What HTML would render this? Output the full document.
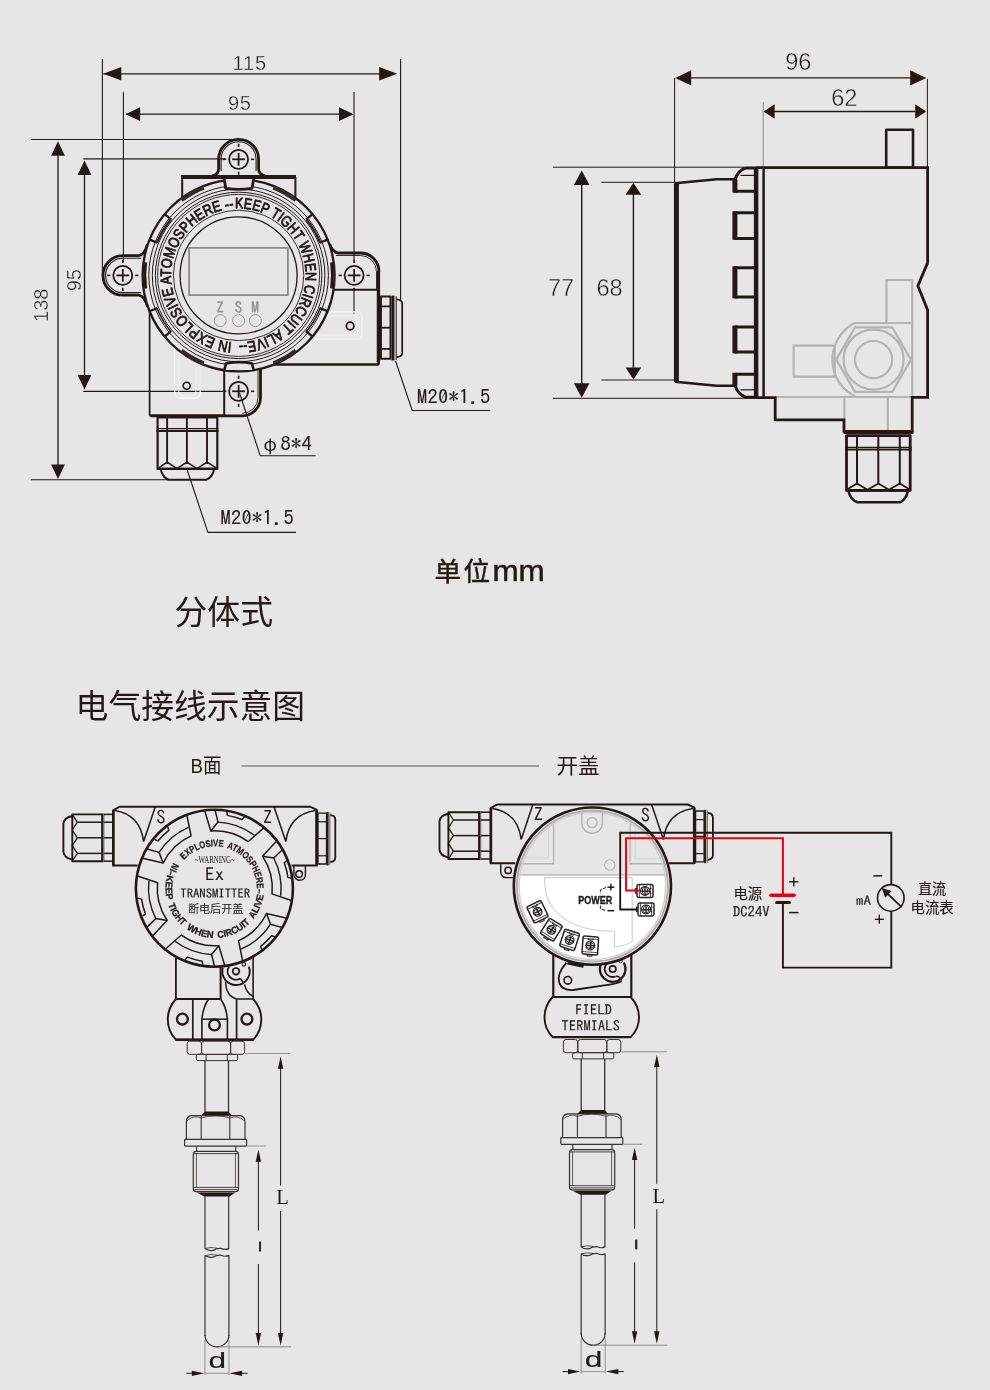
<!DOCTYPE html>
<html lang="zh-CN"><head><meta charset="utf-8"><title>分体式 电气接线示意图</title>
<style>
html,body{margin:0;padding:0;background:#e7e5e6;}
body{width:990px;height:1390px;overflow:hidden;font-family:"Liberation Sans","Noto Sans CJK SC",sans-serif;}
svg{display:block;will-change:transform;}
</style></head><body>
<svg width="990" height="1390" viewBox="0 0 990 1390" stroke-linejoin="round">
<rect x="0" y="0" width="990" height="1390" fill="#e7e5e6"/>
<g id="view1">
<line x1="102.4" y1="59" x2="102.4" y2="275.4" stroke="#231815" stroke-width="1.1" />
<line x1="123.4" y1="92" x2="123.4" y2="262" stroke="#231815" stroke-width="1.1" />
<line x1="400.6" y1="59" x2="400.6" y2="301" stroke="#231815" stroke-width="1.1" />
<line x1="354" y1="92" x2="354" y2="262" stroke="#231815" stroke-width="1.1" />
<line x1="354" y1="288" x2="354" y2="313.5" stroke="#231815" stroke-width="1.1" />
<line x1="103.5" y1="73.8" x2="390" y2="73.8" stroke="#231815" stroke-width="1.3" />
<polygon points="103.3,73.8 121.3,67 121.3,80.6" fill="#231815" stroke="none" stroke-width="0" />
<polygon points="397.2,73.8 379.2,67 379.2,80.6" fill="#231815" stroke="none" stroke-width="0" />
<line x1="126" y1="114.2" x2="352" y2="114.2" stroke="#231815" stroke-width="1.3" />
<polygon points="125.5,114.2 140.1,107.3 140.1,121.1" fill="#231815" stroke="none" stroke-width="0" />
<polygon points="353.6,114.2 339,107.3 339,121.1" fill="#231815" stroke="none" stroke-width="0" />
<line x1="30.8" y1="139.5" x2="236" y2="139.5" stroke="#231815" stroke-width="1.1" />
<line x1="83.3" y1="158.9" x2="225" y2="158.9" stroke="#231815" stroke-width="1.1" />
<line x1="83.3" y1="391.4" x2="226" y2="391.4" stroke="#231815" stroke-width="1.1" />
<line x1="30.8" y1="479.8" x2="168" y2="479.8" stroke="#231815" stroke-width="1.1" />
<line x1="58" y1="150" x2="58" y2="470" stroke="#231815" stroke-width="1.3" />
<polygon points="58,141.2 51.1,155.7 64.9,155.7" fill="#231815" stroke="none" stroke-width="0" />
<polygon points="58,478.9 51.1,464.4 64.9,464.4" fill="#231815" stroke="none" stroke-width="0" />
<line x1="84.5" y1="170" x2="84.5" y2="380" stroke="#231815" stroke-width="1.3" />
<polygon points="84.5,160.4 77.6,174.9 91.4,174.9" fill="#231815" stroke="none" stroke-width="0" />
<polygon points="84.5,389.6 77.6,375.1 91.4,375.1" fill="#231815" stroke="none" stroke-width="0" />
<text x="249.8" y="69.9" font-family="'Liberation Sans','Noto Sans CJK SC',sans-serif" font-size="20" font-weight="normal" text-anchor="middle" fill="#231815" letter-spacing="0.9" stroke="#e7e5e6" stroke-width="0.35">115</text>
<text x="239.8" y="109.5" font-family="'Liberation Sans','Noto Sans CJK SC',sans-serif" font-size="20" font-weight="normal" text-anchor="middle" fill="#231815" letter-spacing="0.6" stroke="#e7e5e6" stroke-width="0.35">95</text>
<text x="0" y="0" font-family="'Liberation Sans','Noto Sans CJK SC',sans-serif" font-size="20" font-weight="normal" text-anchor="middle" fill="#231815" transform="translate(48.1,305.2) rotate(-90)" stroke="#e7e5e6" stroke-width="0.35">138</text>
<text x="0" y="0" font-family="'Liberation Sans','Noto Sans CJK SC',sans-serif" font-size="20" font-weight="normal" text-anchor="middle" fill="#231815" transform="translate(80.8,280.2) rotate(-90)" stroke="#e7e5e6" stroke-width="0.35">95</text>
<polyline points="395.6,361 412.2,410.5 490,410.5" fill="none" stroke="#231815" stroke-width="1.1" />
<text x="417" y="403.5" font-family="'IPAGothic','Liberation Mono',monospace" font-size="20.4" font-weight="normal" text-anchor="start" fill="#231815" letter-spacing="0.3" stroke="#231815" stroke-width="0.1">M20*1.5</text>
<polyline points="187.2,470 207.9,532.4 296,532.4" fill="none" stroke="#231815" stroke-width="1.1" />
<text x="220.6" y="524.5" font-family="'IPAGothic','Liberation Mono',monospace" font-size="20.4" font-weight="normal" text-anchor="start" fill="#231815" letter-spacing="0.3" stroke="#231815" stroke-width="0.1">M20*1.5</text>
<polyline points="239.5,393 260.3,455.8 315.7,455.8" fill="none" stroke="#231815" stroke-width="1.1" />
<text x="263.4" y="451.2" font-size="20.4" fill="#231815" stroke="#231815" stroke-width="0.1"><tspan font-family="'Noto Sans CJK SC',sans-serif" font-size="17.6" stroke-width="0">φ</tspan><tspan x="280.4" font-family="'IPAGothic','Liberation Mono',monospace" letter-spacing="0.3">8*4</tspan></text>
<rect x="174.7" y="340" width="25.4" height="58" rx="5" fill="none" stroke="#f3f2f2" stroke-width="1.3" />
<rect x="178.9" y="344" width="17" height="52" rx="4" fill="none" stroke="#f3f2f2" stroke-width="1" />
<rect x="312" y="312" width="50" height="27" rx="4" fill="none" stroke="#f3f2f2" stroke-width="1.3" />
<rect x="316" y="316" width="42" height="19" rx="3" fill="none" stroke="#f3f2f2" stroke-width="1" />
<path d="M149.6 309V414.5Q149.6 416 151.2 416H224.2" fill="none" stroke="#231815" stroke-width="1.7" />
<line x1="150.5" y1="415.8" x2="224.5" y2="415.8" stroke="#231815" stroke-width="3" />
<path d="M268 364.6H376.6Q378.8 364.6 378.8 362.4V272" fill="none" stroke="#231815" stroke-width="2.5" />
<line x1="378.4" y1="271" x2="378.4" y2="362.5" stroke="#231815" stroke-width="3.3" />
<path d="M181.4 177H296" fill="none" stroke="#231815" stroke-width="4" stroke-linecap="butt"/>
<line x1="182.2" y1="177" x2="182.2" y2="198.5" stroke="#231815" stroke-width="2" />
<line x1="295.4" y1="177" x2="295.4" y2="198.5" stroke="#231815" stroke-width="2" />
<path d="M212 175.8Q218.6 175 218.6 168.6V159.3A20 20 0 0 1 258.6 159.3V168.6Q258.6 175 265.2 175.8" fill="none" stroke="#231815" stroke-width="2.8" />
<path d="M221.1 171V159.3A17.5 17.5 0 0 1 256.1 159.3V171" fill="none" stroke="#231815" stroke-width="1.1" />
<path d="M147.5 244Q144.5 254.8 139 255.6H122.8A19.8 19.8 0 0 0 122.8 295.2H139Q144.5 296 147.5 306.8" fill="none" stroke="#231815" stroke-width="2.8" />
<path d="M141 258.2H122.8A17.2 17.2 0 0 0 122.8 292.6H141" fill="none" stroke="#231815" stroke-width="1.1" />
<path d="M329.6 244Q332.6 252.2 338 253H360.4A18.6 18.6 0 0 1 379 271.6" fill="none" stroke="#231815" stroke-width="2.8" />
<path d="M336 255.5H360.4A16.1 16.1 0 0 1 376.5 271.6V290" fill="none" stroke="#231815" stroke-width="0.9" />
<line x1="333.5" y1="289.8" x2="378.4" y2="289.8" stroke="#231815" stroke-width="2" />
<line x1="224.2" y1="369.8" x2="224.2" y2="416.2" stroke="#231815" stroke-width="2" />
<path d="M260.5 368V397.5A18.3 18.3 0 0 1 242.2 415.8H224.2" fill="none" stroke="#231815" stroke-width="2.8" />
<path d="M258 370V397.5A15.8 15.8 0 0 1 242.2 413.3" fill="none" stroke="#231815" stroke-width="0.9" />
<circle cx="238.6" cy="159.3" r="9.5" fill="none" stroke="#231815" stroke-width="1.8" />
<line x1="232.2" y1="159.3" x2="245" y2="159.3" stroke="#231815" stroke-width="1.8" />
<line x1="238.6" y1="152.9" x2="238.6" y2="165.7" stroke="#231815" stroke-width="1.8" />
<line x1="251" y1="159.3" x2="254.2" y2="159.3" stroke="#231815" stroke-width="1.6" />
<line x1="226.2" y1="159.3" x2="223" y2="159.3" stroke="#231815" stroke-width="1.6" />
<line x1="238.6" y1="171.7" x2="238.6" y2="174.9" stroke="#231815" stroke-width="1.6" />
<line x1="238.6" y1="146.9" x2="238.6" y2="143.7" stroke="#231815" stroke-width="1.6" />
<circle cx="122.8" cy="275.4" r="9.5" fill="none" stroke="#231815" stroke-width="1.8" />
<line x1="116.4" y1="275.4" x2="129.2" y2="275.4" stroke="#231815" stroke-width="1.8" />
<line x1="122.8" y1="269" x2="122.8" y2="281.8" stroke="#231815" stroke-width="1.8" />
<line x1="135.2" y1="275.4" x2="138.4" y2="275.4" stroke="#231815" stroke-width="1.6" />
<line x1="110.4" y1="275.4" x2="107.2" y2="275.4" stroke="#231815" stroke-width="1.6" />
<line x1="122.8" y1="287.8" x2="122.8" y2="291" stroke="#231815" stroke-width="1.6" />
<line x1="122.8" y1="263" x2="122.8" y2="259.8" stroke="#231815" stroke-width="1.6" />
<circle cx="354.1" cy="275.4" r="9.5" fill="none" stroke="#231815" stroke-width="1.8" />
<line x1="347.7" y1="275.4" x2="360.5" y2="275.4" stroke="#231815" stroke-width="1.8" />
<line x1="354.1" y1="269" x2="354.1" y2="281.8" stroke="#231815" stroke-width="1.8" />
<line x1="366.5" y1="275.4" x2="369.7" y2="275.4" stroke="#231815" stroke-width="1.6" />
<line x1="341.7" y1="275.4" x2="338.5" y2="275.4" stroke="#231815" stroke-width="1.6" />
<line x1="354.1" y1="287.8" x2="354.1" y2="291" stroke="#231815" stroke-width="1.6" />
<line x1="354.1" y1="263" x2="354.1" y2="259.8" stroke="#231815" stroke-width="1.6" />
<circle cx="238.6" cy="391.3" r="9.5" fill="none" stroke="#231815" stroke-width="1.8" />
<line x1="232.2" y1="391.3" x2="245" y2="391.3" stroke="#231815" stroke-width="1.8" />
<line x1="238.6" y1="384.9" x2="238.6" y2="397.7" stroke="#231815" stroke-width="1.8" />
<line x1="251" y1="391.3" x2="254.2" y2="391.3" stroke="#231815" stroke-width="1.6" />
<line x1="226.2" y1="391.3" x2="223" y2="391.3" stroke="#231815" stroke-width="1.6" />
<line x1="238.6" y1="403.7" x2="238.6" y2="406.9" stroke="#231815" stroke-width="1.6" />
<line x1="238.6" y1="378.9" x2="238.6" y2="375.7" stroke="#231815" stroke-width="1.6" />
<circle cx="186.7" cy="385.8" r="3.5" fill="none" stroke="#231815" stroke-width="1.6" />
<circle cx="350.1" cy="326" r="3.8" fill="none" stroke="#231815" stroke-width="1.7" />
<circle cx="238.6" cy="275.4" r="96" fill="#e7e5e6" stroke="#231815" stroke-width="2.3" />
<circle cx="238.6" cy="275.4" r="89.8" fill="none" stroke="#231815" stroke-width="1" />
<circle cx="238.6" cy="275.4" r="86.3" fill="none" stroke="#231815" stroke-width="1" />
<circle cx="238.6" cy="275.4" r="83.2" fill="none" stroke="#231815" stroke-width="1" />
<circle cx="238.6" cy="275.4" r="81" fill="none" stroke="#231815" stroke-width="0.9" />
<circle cx="238.6" cy="275.4" r="65.2" fill="none" stroke="#231815" stroke-width="0.9" />
<circle cx="238.6" cy="275.4" r="58.5" fill="none" stroke="#231815" stroke-width="1.3" />
<line x1="305.94" y1="219.69" x2="312.57" y2="214.21" stroke="#231815" stroke-width="2.3" />
<line x1="171.26" y1="219.69" x2="164.63" y2="214.21" stroke="#231815" stroke-width="2.3" />
<line x1="305.94" y1="331.11" x2="312.57" y2="336.59" stroke="#231815" stroke-width="2.3" />
<line x1="171.26" y1="331.11" x2="164.63" y2="336.59" stroke="#231815" stroke-width="2.3" />
<line x1="319.69" y1="242.8" x2="327.67" y2="239.59" stroke="#231815" stroke-width="2.3" />
<line x1="157.51" y1="242.8" x2="149.53" y2="239.59" stroke="#231815" stroke-width="2.3" />
<line x1="319.69" y1="308" x2="327.67" y2="311.21" stroke="#231815" stroke-width="2.3" />
<line x1="157.51" y1="308" x2="149.53" y2="311.21" stroke="#231815" stroke-width="2.3" />
<path d="M306.33 219.37A87.9 87.9 0 0 1 320.16 242.61" fill="none" stroke="#332b29" stroke-width="2.4" />
<path d="M157.04 242.61A87.9 87.9 0 0 1 170.87 219.37" fill="none" stroke="#332b29" stroke-width="2.4" />
<path d="M320.25 308.22A88 88 0 0 1 306.41 331.49" fill="none" stroke="#231815" stroke-width="1.4" />
<path d="M170.79 331.49A88 88 0 0 1 156.95 308.22" fill="none" stroke="#231815" stroke-width="1.4" />
<path d="M273.35 187.63A94.4 94.4 0 0 1 295.67 200.21" fill="none" stroke="#332b29" stroke-width="3.8" />
<path d="M181.53 200.21A94.4 94.4 0 0 1 203.85 187.63" fill="none" stroke="#332b29" stroke-width="3.8" />
<path d="M295.67 350.59A94.4 94.4 0 0 1 273.35 363.17" fill="none" stroke="#332b29" stroke-width="3.8" />
<path d="M203.85 363.17A94.4 94.4 0 0 1 181.53 350.59" fill="none" stroke="#332b29" stroke-width="3.8" />
<path d="M331.49 262.35A93.8 93.8 0 0 1 331.49 288.45" fill="none" stroke="#231815" stroke-width="2.8" />
<path d="M145.71 288.45A93.8 93.8 0 0 1 145.71 262.35" fill="none" stroke="#231815" stroke-width="2.8" />
<path d="M224.2 179L225.8 188.4Q239 190.4 252 188.4L253.6 179" fill="#e7e5e6" stroke="#231815" stroke-width="2.8" />
<path d="M224.4 370L226 363.4Q239 360.8 252 363.4L253.6 370" fill="#e7e5e6" stroke="#231815" stroke-width="2.6" />
<path d="M181.4 177H296" fill="none" stroke="#231815" stroke-width="4" stroke-linecap="butt"/>
<rect x="189.1" y="247.9" width="98.8" height="47.2" rx="0" fill="none" stroke="#8a8a8a" stroke-width="1.8" />
<text x="220" y="312.6" font-family="'IPAGothic','Liberation Mono',monospace" font-size="15.4" font-weight="normal" text-anchor="middle" fill="#8e8e8e" stroke="#8e8e8e" stroke-width="0.25">Z</text>
<circle cx="220.2" cy="320.6" r="6" fill="none" stroke="#8e8e8e" stroke-width="0.9" />
<text x="238.4" y="312.6" font-family="'IPAGothic','Liberation Mono',monospace" font-size="15.4" font-weight="normal" text-anchor="middle" fill="#8e8e8e" stroke="#8e8e8e" stroke-width="0.25">S</text>
<circle cx="238.6" cy="320.6" r="6" fill="none" stroke="#8e8e8e" stroke-width="0.9" />
<text x="255.2" y="312.6" font-family="'IPAGothic','Liberation Mono',monospace" font-size="15.4" font-weight="normal" text-anchor="middle" fill="#8e8e8e" stroke="#8e8e8e" stroke-width="0.25">M</text>
<circle cx="255.4" cy="320.6" r="6" fill="none" stroke="#8e8e8e" stroke-width="0.9" />
<path id="rt1" d="M215.68 212.44A67 67 0 1 1 261.52 338.36A67 67 0 1 1 215.68 212.44" fill="none"/>
<text font-family="'Liberation Sans',sans-serif" font-size="15.2" font-weight="normal" fill="#231815" stroke="#231815" stroke-width="0.85"><textPath href="#rt1" startOffset="19.88" textLength="213.53" lengthAdjust="spacingAndGlyphs">KEEP TIGHT WHEN CIRCUIT ALIVE--</textPath></text>
<path id="rt2" d="M250.23 341.38A67 67 0 1 1 226.97 209.42A67 67 0 1 1 250.23 341.38" fill="none"/>
<text font-family="'Liberation Sans',sans-serif" font-size="15.2" font-weight="normal" fill="#231815" stroke="#231815" stroke-width="0.85"><textPath href="#rt2" startOffset="18.24" textLength="200.2" lengthAdjust="spacingAndGlyphs">IN EXPLOSIVE ATOMOSPHERE --</textPath></text>
<rect x="157.6" y="417.5" width="59.7" height="51.4" rx="0" fill="none" stroke="#231815" stroke-width="2.2" />
<line x1="156.6" y1="428.7" x2="218.3" y2="428.7" stroke="#231815" stroke-width="1.2" />
<line x1="156.4" y1="431" x2="218.5" y2="431" stroke="#231815" stroke-width="2.2" />
<line x1="167.1" y1="417.5" x2="167.1" y2="462.3" stroke="#231815" stroke-width="1.9" />
<line x1="186.9" y1="417.5" x2="186.9" y2="462.3" stroke="#231815" stroke-width="1.9" />
<line x1="207" y1="417.5" x2="207" y2="462.3" stroke="#231815" stroke-width="1.9" />
<polyline points="157.6,468.6 167.1,462.1 177,468.6 186.9,462.1 197,468.6 207,462.1 217.3,468.6" fill="none" stroke="#231815" stroke-width="1.6" />
<line x1="157.6" y1="468.9" x2="217.3" y2="468.9" stroke="#231815" stroke-width="2.4" />
<path d="M160.6 469Q162.5 477.5 168.5 479.8H206.3Q212.5 477.5 214.2 469" fill="none" stroke="#231815" stroke-width="2" />
<rect x="380.9" y="296.4" width="9.6" height="62.4" rx="0" fill="none" stroke="#231815" stroke-width="2" />
<line x1="380.9" y1="306.4" x2="390.5" y2="306.4" stroke="#231815" stroke-width="1.8" />
<line x1="380.9" y1="327.7" x2="390.5" y2="327.7" stroke="#231815" stroke-width="1.8" />
<line x1="380.9" y1="348.9" x2="390.5" y2="348.9" stroke="#231815" stroke-width="1.8" />
<line x1="393" y1="295.6" x2="393" y2="360.4" stroke="#231815" stroke-width="2.9" />
<line x1="396.2" y1="296.2" x2="396.2" y2="360" stroke="#231815" stroke-width="1" />
<path d="M396.4 299.4Q402.2 299.8 402.2 303.4V353Q402.2 356.8 396.4 357.2" fill="none" stroke="#231815" stroke-width="1.7" />
</g>
<g id="view2">
<line x1="674.6" y1="78" x2="674.6" y2="182" stroke="#231815" stroke-width="1" />
<line x1="763.2" y1="102" x2="763.2" y2="166" stroke="#8a8a8a" stroke-width="1" />
<line x1="927.4" y1="79" x2="927.4" y2="167" stroke="#231815" stroke-width="1" />
<line x1="553" y1="167.2" x2="745" y2="167.2" stroke="#231815" stroke-width="1" />
<line x1="601.4" y1="182.3" x2="676" y2="182.3" stroke="#231815" stroke-width="1" />
<line x1="553" y1="398.3" x2="755" y2="398.3" stroke="#231815" stroke-width="1" />
<line x1="601.4" y1="380" x2="676" y2="380" stroke="#231815" stroke-width="1" />
<line x1="680" y1="77.9" x2="920" y2="77.9" stroke="#231815" stroke-width="1.4" />
<polygon points="675.2,77.9 691.2,70.3 691.2,85.5" fill="#231815" stroke="none" stroke-width="0" />
<polygon points="926.2,77.9 910.2,70.3 910.2,85.5" fill="#231815" stroke="none" stroke-width="0" />
<line x1="768" y1="111.5" x2="920" y2="111.5" stroke="#231815" stroke-width="1.4" />
<polygon points="763.6,111.5 774.6,104.3 774.6,118.7" fill="#231815" stroke="none" stroke-width="0" />
<polygon points="926.2,111.5 915.2,104.3 915.2,118.7" fill="#231815" stroke="none" stroke-width="0" />
<line x1="581.7" y1="180" x2="581.7" y2="388" stroke="#231815" stroke-width="1.4" />
<polygon points="581.7,170.4 573.9,184.9 589.5,184.9" fill="#231815" stroke="none" stroke-width="0" />
<polygon points="581.7,397.8 573.9,383.3 589.5,383.3" fill="#231815" stroke="none" stroke-width="0" />
<line x1="633.4" y1="190" x2="633.4" y2="370" stroke="#231815" stroke-width="1.4" />
<polygon points="633.4,182.8 625.6,194.8 641.2,194.8" fill="#231815" stroke="none" stroke-width="0" />
<polygon points="633.4,379.4 625.6,367.4 641.2,367.4" fill="#231815" stroke="none" stroke-width="0" />
<text x="798.3" y="69.9" font-family="'Liberation Sans','Noto Sans CJK SC',sans-serif" font-size="24" font-weight="normal" text-anchor="middle" fill="#231815" textLength="26.2" lengthAdjust="spacingAndGlyphs" stroke="#e7e5e6" stroke-width="0.4">96</text>
<text x="844.3" y="105.8" font-family="'Liberation Sans','Noto Sans CJK SC',sans-serif" font-size="24" font-weight="normal" text-anchor="middle" fill="#231815" textLength="26.2" lengthAdjust="spacingAndGlyphs" stroke="#e7e5e6" stroke-width="0.4">62</text>
<text x="561.1" y="296" font-family="'Liberation Sans','Noto Sans CJK SC',sans-serif" font-size="24" font-weight="normal" text-anchor="middle" fill="#231815" textLength="26.2" lengthAdjust="spacingAndGlyphs" stroke="#e7e5e6" stroke-width="0.4">77</text>
<text x="609.5" y="296" font-family="'Liberation Sans','Noto Sans CJK SC',sans-serif" font-size="24" font-weight="normal" text-anchor="middle" fill="#231815" textLength="26.2" lengthAdjust="spacingAndGlyphs" stroke="#e7e5e6" stroke-width="0.4">68</text>
<rect x="886.5" y="280" width="25.7" height="43" rx="0" fill="none" stroke="#b4b4b5" stroke-width="2.2" />
<rect x="793.7" y="345.6" width="41" height="31.1" rx="0" fill="none" stroke="#b4b4b5" stroke-width="2.2" />
<path d="M854.7 323H912.2V397M854.7 323A41.2 41.2 0 0 0 856.3 397" fill="none" stroke="#b4b4b5" stroke-width="2.2" />
<polygon points="910.9,359.6 892.25,391.9 854.95,391.9 836.3,359.6 854.95,327.3 892.25,327.3" fill="none" stroke="#b4b4b5" stroke-width="2.2" />
<circle cx="873.6" cy="359.6" r="30" fill="none" stroke="#b4b4b5" stroke-width="2.2" />
<circle cx="873.6" cy="359.6" r="18.6" fill="none" stroke="#b4b4b5" stroke-width="2.2" />
<line x1="775" y1="397" x2="912.2" y2="397" stroke="#b4b4b5" stroke-width="2.2" />
<line x1="844.4" y1="397" x2="844.4" y2="420" stroke="#b4b4b5" stroke-width="2.2" />
<line x1="887.8" y1="397" x2="887.8" y2="431" stroke="#b4b4b5" stroke-width="2.2" />
<line x1="676.4" y1="183.2" x2="676.4" y2="381.8" stroke="#231815" stroke-width="5" />
<path d="M675 183.2L716.7 179.3H734" fill="none" stroke="#231815" stroke-width="2.6" />
<path d="M675 381.8L716.7 385.7H734" fill="none" stroke="#231815" stroke-width="2.6" />
<line x1="756.1" y1="167" x2="756.1" y2="398.6" stroke="#231815" stroke-width="4.5" />
<path d="M756.1 191.2H734.9V180Q738 170 746 168H756.1" fill="none" stroke="#231815" stroke-width="3" />
<line x1="740.5" y1="175.4" x2="754" y2="175.4" stroke="#231815" stroke-width="1.2" />
<line x1="734.9" y1="179.5" x2="734.9" y2="192.6" stroke="#231815" stroke-width="5" />
<path d="M756.1 212.7H734.9V238.4H756.1" fill="none" stroke="#231815" stroke-width="3" />
<line x1="734.9" y1="211.3" x2="734.9" y2="239.8" stroke="#231815" stroke-width="5" />
<path d="M756.1 267.7H734.9V296.9H756.1" fill="none" stroke="#231815" stroke-width="3" />
<line x1="734.9" y1="266.3" x2="734.9" y2="298.3" stroke="#231815" stroke-width="5" />
<path d="M756.1 327H734.9V351.9H756.1" fill="none" stroke="#231815" stroke-width="3" />
<line x1="734.9" y1="325.6" x2="734.9" y2="353.3" stroke="#231815" stroke-width="5" />
<path d="M756.1 374.2H734.9V385Q738 395 746 397.3H756.1" fill="none" stroke="#231815" stroke-width="3" />
<line x1="740.5" y1="389.8" x2="754" y2="389.8" stroke="#231815" stroke-width="1.2" />
<line x1="734.9" y1="372.8" x2="734.9" y2="385.5" stroke="#231815" stroke-width="5" />
<line x1="763.6" y1="167.6" x2="763.6" y2="397.5" stroke="#231815" stroke-width="2.5" />
<path d="M756 167.7H927.6V262.9L917.9 285.7L927.6 310.1V397.4H912.2V431.3H844V419.8H775.2V397.6H756" fill="none" stroke="#231815" stroke-width="2.8" stroke-linejoin="miter"/>
<rect x="886.2" y="129.8" width="26.8" height="37.8" rx="0" fill="none" stroke="#231815" stroke-width="2.6" />
<line x1="843.5" y1="432.4" x2="913.3" y2="432.4" stroke="#231815" stroke-width="3.2" />
<rect x="846.5" y="435.6" width="63.7" height="54.8" rx="0" fill="none" stroke="#231815" stroke-width="2.8" />
<line x1="845" y1="447.5" x2="911.7" y2="447.5" stroke="#231815" stroke-width="1.4" />
<line x1="845" y1="449.7" x2="911.7" y2="449.7" stroke="#231815" stroke-width="1.8" />
<line x1="857" y1="435.6" x2="857" y2="483.8" stroke="#231815" stroke-width="2" />
<line x1="878.3" y1="435.6" x2="878.3" y2="483.8" stroke="#231815" stroke-width="2" />
<line x1="899.8" y1="435.6" x2="899.8" y2="483.8" stroke="#231815" stroke-width="2" />
<polyline points="846.5,489.8 857,483.6 867.6,489.8 878.3,483.6 889,489.8 899.8,483.6 910.2,489.8" fill="none" stroke="#231815" stroke-width="1.7" />
<line x1="846.5" y1="490.4" x2="910.2" y2="490.4" stroke="#231815" stroke-width="2.6" />
<path d="M848.4 491Q850.5 499.8 857.4 502.3H899.8Q906 499.8 908 491" fill="none" stroke="#231815" stroke-width="2.5" />
</g>
<g id="texts">
<text y="581.2" fill="#231815" font-family="'Liberation Sans','Noto Sans CJK SC',sans-serif"><tspan x="434.6" font-size="26.6" stroke="#231815" stroke-width="0.45" letter-spacing="2.2">单位</tspan><tspan x="492.4" font-size="30.4" textLength="52.4" lengthAdjust="spacingAndGlyphs" stroke="#231815" stroke-width="0.5">mm</tspan></text>
<text x="174.5" y="623.6" font-family="'Liberation Sans','Noto Sans CJK SC',sans-serif" font-size="32.6" font-weight="normal" text-anchor="start" fill="#231815" textLength="98.5" lengthAdjust="spacingAndGlyphs" >分体式</text>
<text x="75.6" y="718.2" font-family="'Liberation Sans','Noto Sans CJK SC',sans-serif" font-size="32.6" font-weight="normal" text-anchor="start" fill="#231815" textLength="229.5" lengthAdjust="spacingAndGlyphs" >电气接线示意图</text>
<text x="190.5" y="773.3" font-family="'Liberation Sans','Noto Sans CJK SC',sans-serif" font-size="20.5" font-weight="normal" text-anchor="start" fill="#231815" textLength="31" lengthAdjust="spacingAndGlyphs" >B面</text>
<text x="556.4" y="773.3" font-family="'Liberation Sans','Noto Sans CJK SC',sans-serif" font-size="21" font-weight="normal" text-anchor="start" fill="#231815" textLength="43.2" lengthAdjust="spacingAndGlyphs" >开盖</text>
<line x1="241.4" y1="766" x2="539" y2="766" stroke="#5c5757" stroke-width="1.2" />
</g>
<g id="view3">
<path d="M137.5 865.5 L113.2 865.5 L113.2 810.3 L119.6 806.7 L310.2 806.7 L316.7 809.8 L316.7 865.5 L291.5 865.5" fill="none" stroke="#231815" stroke-width="2" stroke-linejoin="miter"/>
<line x1="113.3" y1="810.3" x2="113.3" y2="865.5" stroke="#231815" stroke-width="2.6" />
<line x1="316.6" y1="810" x2="316.6" y2="865.5" stroke="#231815" stroke-width="2.6" />
<path d="M114.8 810.6Q140.1 814.6 143.6 841.6L155.2 807" fill="none" stroke="#231815" stroke-width="1.5" stroke-linejoin="miter"/>
<path d="M315.2 810.6Q289.3 814.6 285.8 841.6L274.1 807" fill="none" stroke="#231815" stroke-width="1.5" stroke-linejoin="miter"/>
<text x="160.8" y="823.6" font-family="'IPAGothic','Liberation Mono',monospace" font-size="18.5" font-weight="normal" text-anchor="middle" fill="#231815" >S</text>
<text x="267.7" y="823.9" font-family="'IPAGothic','Liberation Mono',monospace" font-size="18.5" font-weight="normal" text-anchor="middle" fill="#231815" >Z</text>
<path d="M72.3 816Q64.4 817.4 63.4 823.4V852.2Q64.4 858.2 72.3 859.6" fill="none" stroke="#231815" stroke-width="1.9" />
<rect x="72.3" y="814.4" width="30.1" height="46.8" rx="0" fill="none" stroke="#231815" stroke-width="1.9" />
<line x1="77.3" y1="822.2" x2="102.4" y2="822.2" stroke="#231815" stroke-width="1.5" />
<line x1="77.3" y1="837.8" x2="102.4" y2="837.8" stroke="#231815" stroke-width="1.5" />
<line x1="77.3" y1="853.4" x2="102.4" y2="853.4" stroke="#231815" stroke-width="1.5" />
<polyline points="72.3,814.4 77.3,822.2 72.3,830 77.3,837.8 72.3,845.6 77.3,853.4 72.3,861.2" fill="none" stroke="#231815" stroke-width="1.3" />
<line x1="102" y1="813.4" x2="102" y2="862.2" stroke="#231815" stroke-width="1.3" />
<line x1="103.8" y1="813.4" x2="103.8" y2="862.2" stroke="#7a7676" stroke-width="1.3" />
<line x1="103.8" y1="814.4" x2="113.2" y2="814.4" stroke="#231815" stroke-width="1.5" />
<line x1="103.8" y1="822.2" x2="113.2" y2="822.2" stroke="#231815" stroke-width="1.5" />
<line x1="103.8" y1="837.8" x2="113.2" y2="837.8" stroke="#231815" stroke-width="1.5" />
<line x1="103.8" y1="853.4" x2="113.2" y2="853.4" stroke="#231815" stroke-width="1.5" />
<line x1="103.8" y1="861.2" x2="113.2" y2="861.2" stroke="#231815" stroke-width="1.5" />
<rect x="318" y="813.2" width="8.5" height="50.8" rx="0" fill="none" stroke="#231815" stroke-width="1.3" />
<line x1="318" y1="821.8" x2="326.5" y2="821.8" stroke="#231815" stroke-width="1.2" />
<line x1="318" y1="838.6" x2="326.5" y2="838.6" stroke="#231815" stroke-width="1.2" />
<line x1="318" y1="855.8" x2="326.5" y2="855.8" stroke="#231815" stroke-width="1.2" />
<line x1="327.6" y1="812" x2="327.6" y2="865.4" stroke="#231815" stroke-width="2" />
<line x1="329.8" y1="812.4" x2="329.8" y2="865" stroke="#7a7676" stroke-width="1.2" />
<path d="M330.3 815.2Q335.3 815.6 335.3 819.7V857.5Q335.3 861.6 330.3 862" fill="none" stroke="#231815" stroke-width="1.8" />
<path d="M293.9 866V874.6A5.6 5.6 0 0 0 299.5 880.2Q305.4 880.2 305.4 874.4V866" fill="none" stroke="#231815" stroke-width="1.4" />
<circle cx="299.1" cy="874" r="3.3" fill="none" stroke="#231815" stroke-width="1.5" />
<path d="M175.9 958V999H220.6" fill="none" stroke="#231815" stroke-width="1.8" />
<line x1="220.6" y1="966" x2="220.6" y2="999" stroke="#231815" stroke-width="2" />
<path d="M253.1 955V999H236.5" fill="none" stroke="#231815" stroke-width="1.6" />
<circle cx="236" cy="971.3" r="3.3" fill="none" stroke="#231815" stroke-width="1.7" />
<circle cx="243.9" cy="964.3" r="1.8" fill="none" stroke="#231815" stroke-width="1.1" />
<path d="M248.87 966.61A13.7 13.7 0 1 1 222.77 967.75" fill="none" stroke="#231815" stroke-width="1.9" />
<path d="M240.2 978.57A8.4 8.4 0 0 1 229.12 966.48" fill="none" stroke="#231815" stroke-width="1.8" />
<path d="M240.2 978.6Q242.4 981.4 243.6 982.8" fill="none" stroke="#231815" stroke-width="1.6" />
<path d="M225.6 981.6Q225.8 996 236.5 999" fill="none" stroke="#231815" stroke-width="1.5" />
<path d="M244.6 984.4Q246 992.6 253.1 996.4" fill="none" stroke="#231815" stroke-width="1.5" />
<path d="M175.9 999Q167.8 1008 167.8 1019.4Q167.8 1031 175.9 1039.7H253.2Q261.3 1031 261.3 1019.4Q261.3 1008 253.1 999" fill="none" stroke="#231815" stroke-width="1.9" />
<line x1="175.5" y1="1039.7" x2="253.6" y2="1039.7" stroke="#231815" stroke-width="2.4" />
<line x1="192.8" y1="999" x2="192.8" y2="1039.7" stroke="#231815" stroke-width="1.7" />
<line x1="236.6" y1="999" x2="236.6" y2="1039.7" stroke="#231815" stroke-width="1.7" />
<path d="M201.9 1039.7V1019.3Q203 1007 208.6 999" fill="none" stroke="#231815" stroke-width="1.6" />
<path d="M220.6 999Q226.4 1007 227.4 1019.3V1039.7" fill="none" stroke="#231815" stroke-width="1.6" />
<line x1="201.9" y1="1019.2" x2="227.4" y2="1019.2" stroke="#231815" stroke-width="1.5" />
<circle cx="182.4" cy="1019.1" r="5.4" fill="none" stroke="#231815" stroke-width="2.3" />
<circle cx="214.5" cy="1024.9" r="5.4" fill="none" stroke="#231815" stroke-width="2.3" />
<circle cx="246.9" cy="1019.1" r="5.4" fill="none" stroke="#231815" stroke-width="2.3" />
<circle cx="214.4" cy="888.3" r="78.5" fill="#e7e5e6" stroke="#231815" stroke-width="2.6" />
<path d="M142.6 858.25L163.12 863.09L159.07 852.38L147.21 848.96" fill="none" stroke="#231815" stroke-width="1.5" />
<path d="M159.07 852.38A66.3 66.3 0 0 1 188.47 827.45" fill="none" stroke="#231815" stroke-width="1.4" />
<path d="M163.12 863.09A57.5 57.5 0 0 1 191.05 835.94L186.9 815.25" fill="none" stroke="#231815" stroke-width="1.5" />
<path d="M154.65 839.59L157.95 840.93A74 74 0 0 1 168.84 830.31L167.79 826.81" fill="none" stroke="#231815" stroke-width="1.5" />
<path d="M204.73 810.75L210.79 830.94L218.04 822.08L215.07 810.1" fill="none" stroke="#231815" stroke-width="1.5" />
<path d="M218.04 822.08A66.3 66.3 0 0 1 254.33 835.07" fill="none" stroke="#231815" stroke-width="1.4" />
<path d="M210.79 830.94A57.5 57.5 0 0 1 248.27 841.55L264.12 827.61" fill="none" stroke="#231815" stroke-width="1.5" />
<path d="M226.91 811.85L227.4 815.38A74 74 0 0 1 242.04 819.5L244.54 816.84" fill="none" stroke="#231815" stroke-width="1.5" />
<path d="M276.92 840.8L262.47 856.15L273.77 857.99L282.66 849.44" fill="none" stroke="#231815" stroke-width="1.5" />
<path d="M273.77 857.99A66.3 66.3 0 0 1 280.66 895.92" fill="none" stroke="#231815" stroke-width="1.4" />
<path d="M262.47 856.15A57.5 57.5 0 0 1 272.03 893.91L292.02 900.67" fill="none" stroke="#231815" stroke-width="1.5" />
<path d="M287.06 860.56L284.25 862.75A74 74 0 0 1 288.01 877.49L291.56 878.33" fill="none" stroke="#231815" stroke-width="1.5" />
<path d="M287 918.35L266.48 913.51L270.53 924.22L282.39 927.64" fill="none" stroke="#231815" stroke-width="1.5" />
<path d="M270.53 924.22A66.3 66.3 0 0 1 241.13 949.15" fill="none" stroke="#231815" stroke-width="1.4" />
<path d="M266.48 913.51A57.5 57.5 0 0 1 238.55 940.66L242.7 961.35" fill="none" stroke="#231815" stroke-width="1.5" />
<path d="M274.95 937.01L271.65 935.67A74 74 0 0 1 260.76 946.29L261.81 949.79" fill="none" stroke="#231815" stroke-width="1.5" />
<path d="M224.87 965.85L218.81 945.66L211.56 954.52L214.53 966.5" fill="none" stroke="#231815" stroke-width="1.5" />
<path d="M211.56 954.52A66.3 66.3 0 0 1 175.27 941.53" fill="none" stroke="#231815" stroke-width="1.4" />
<path d="M218.81 945.66A57.5 57.5 0 0 1 181.33 935.05L165.48 948.99" fill="none" stroke="#231815" stroke-width="1.5" />
<path d="M202.69 964.75L202.2 961.22A74 74 0 0 1 187.56 957.1L185.06 959.76" fill="none" stroke="#231815" stroke-width="1.5" />
<path d="M152.68 935.8L167.13 920.45L155.83 918.61L146.94 927.16" fill="none" stroke="#231815" stroke-width="1.5" />
<path d="M155.83 918.61A66.3 66.3 0 0 1 148.94 880.68" fill="none" stroke="#231815" stroke-width="1.4" />
<path d="M167.13 920.45A57.5 57.5 0 0 1 157.57 882.69L137.58 875.93" fill="none" stroke="#231815" stroke-width="1.5" />
<path d="M142.54 916.04L145.35 913.85A74 74 0 0 1 141.59 899.11L138.04 898.27" fill="none" stroke="#231815" stroke-width="1.5" />
<text x="214.8" y="863.4" font-family="'Liberation Serif',serif" font-size="9.4" font-weight="normal" text-anchor="middle" fill="#231815" textLength="40" lengthAdjust="spacingAndGlyphs" >~WARNING~</text>
<text x="214.6" y="881.2" font-family="'IPAGothic','Liberation Mono',monospace" font-size="18.2" font-weight="normal" text-anchor="middle" fill="#231815" textLength="19.4" lengthAdjust="spacingAndGlyphs" >Ex</text>
<text x="215.2" y="897.8" font-family="'IPAGothic','Liberation Mono',monospace" font-size="12.7" font-weight="normal" text-anchor="middle" fill="#231815" stroke="#231815" stroke-width="0.15">TRANSMITTER</text>
<text x="215.6" y="913.4" font-family="'Liberation Sans','Noto Sans CJK SC',sans-serif" font-size="11" font-weight="normal" text-anchor="middle" fill="#231815" textLength="55.4" lengthAdjust="spacingAndGlyphs" >断电后开盖</text>
<path id="bt1" d="M174.23 877.43A42 42 0 1 1 255.37 899.17A42 42 0 1 1 174.23 877.43" fill="none"/>
<text font-family="'Liberation Sans',sans-serif" font-size="9.6" font-weight="bold" fill="#231815" stroke="#231815" stroke-width="0.25"><textPath href="#bt1" startOffset="4.76" textLength="8.06" lengthAdjust="spacingAndGlyphs">IN</textPath> <textPath href="#bt1" startOffset="20.09" textLength="43.25" lengthAdjust="spacingAndGlyphs">EXPLOSIVE</textPath> <textPath href="#bt1" startOffset="67.15" textLength="53.95" lengthAdjust="spacingAndGlyphs">ATMOSPHERE</textPath> <textPath href="#bt1" startOffset="121.54" textLength="4.25" lengthAdjust="spacingAndGlyphs">–</textPath></text>
<path id="bt2" d="M168.57 871.47A49.2 49.2 0 1 0 261.03 905.13A49.2 49.2 0 1 0 168.57 871.47" fill="none"/>
<text font-family="'Liberation Sans',sans-serif" font-size="9.6" font-weight="bold" fill="#231815" stroke="#231815" stroke-width="0.25"><textPath href="#bt2" startOffset="-1.2" textLength="4.29" lengthAdjust="spacingAndGlyphs">–</textPath> <textPath href="#bt2" startOffset="3.61" textLength="25.42" lengthAdjust="spacingAndGlyphs">KEEP</textPath> <textPath href="#bt2" startOffset="33.83" textLength="25.93" lengthAdjust="spacingAndGlyphs">TIGHT</textPath> <textPath href="#bt2" startOffset="64.57" textLength="29.02" lengthAdjust="spacingAndGlyphs">WHEN</textPath> <textPath href="#bt2" startOffset="97.98" textLength="36.32" lengthAdjust="spacingAndGlyphs">CIRCUIT</textPath> <textPath href="#bt2" startOffset="139.11" textLength="26.28" lengthAdjust="spacingAndGlyphs">ALIVE</textPath></text>
<g transform="translate(0 0)">
<rect x="187.2" y="1041.2" width="14.4" height="13.2" rx="2.6" fill="none" stroke="#3a3230" stroke-width="1" />
<rect x="201.6" y="1041.2" width="29" height="13.2" rx="2.6" fill="none" stroke="#3a3230" stroke-width="1" />
<rect x="230.6" y="1041.2" width="14" height="13.2" rx="2.6" fill="none" stroke="#3a3230" stroke-width="1" />
<rect x="196.4" y="1054.4" width="41.2" height="6.2" rx="1.5" fill="none" stroke="#3a3230" stroke-width="1" />
<line x1="206.1" y1="1054.4" x2="206.1" y2="1060.6" stroke="#3a3230" stroke-width="1" />
<line x1="227.3" y1="1054.4" x2="227.3" y2="1060.6" stroke="#3a3230" stroke-width="1" />
<line x1="205" y1="1060.6" x2="205" y2="1112.4" stroke="#3a3230" stroke-width="1.3" />
<line x1="228.5" y1="1060.6" x2="228.5" y2="1112.4" stroke="#3a3230" stroke-width="1.3" />
<polygon points="205,1111.6 228.5,1111.6 232,1115.6 201,1115.6" fill="#231815" stroke="none" stroke-width="0" />
<path d="M186.4 1139.2V1121Q186.6 1116.6 191 1115.6H240.4Q244.8 1116.6 245 1121V1139.2" fill="none" stroke="#3a3230" stroke-width="1.2" />
<line x1="201.2" y1="1116" x2="201.2" y2="1139.2" stroke="#3a3230" stroke-width="1.1" />
<line x1="229.8" y1="1116" x2="229.8" y2="1139.2" stroke="#3a3230" stroke-width="1.1" />
<path d="M186.6 1121Q193.5 1114.8 201.2 1118Q215.5 1113.6 229.8 1118Q237.5 1114.8 244.8 1121" fill="none" stroke="#3a3230" stroke-width="0.8" />
<rect x="184.6" y="1139.3" width="62" height="6.8" rx="0.8" fill="none" stroke="#3a3230" stroke-width="1.2" />
<path d="M196.6 1146.2V1151.6M235.8 1146.2V1151.6" fill="none" stroke="#3a3230" stroke-width="1.1" />
<rect x="193.3" y="1151.4" width="45.2" height="40.2" rx="3" fill="none" stroke="#3a3230" stroke-width="1.2" />
<line x1="193.6" y1="1153.6" x2="238.2" y2="1153.6" stroke="#3a3230" stroke-width="0.9" />
<line x1="193.6" y1="1187.4" x2="238.2" y2="1187.4" stroke="#3a3230" stroke-width="0.9" />
<line x1="194.4" y1="1189.6" x2="237.4" y2="1189.6" stroke="#3a3230" stroke-width="0.9" />
<line x1="196.4" y1="1153.6" x2="196.4" y2="1187.4" stroke="#3a3230" stroke-width="0.8" />
<line x1="235.4" y1="1153.6" x2="235.4" y2="1187.4" stroke="#3a3230" stroke-width="0.8" />
<polygon points="196.6,1192.4 235.4,1192.4 229.6,1196.4 204.2,1196.4" fill="#231815" stroke="none" stroke-width="0" />
<path d="M205 1196V1248.6Q208.6 1251.2 213 1250.4Q217 1248 221 1248.4Q225 1250.4 228.7 1248.6V1196" fill="none" stroke="#3a3230" stroke-width="1.2" />
<path d="M205 1248.6Q211 1246.6 217.2 1248.2" fill="none" stroke="#3a3230" stroke-width="0.8" />
<path d="M205 1336V1255.6Q208.6 1258 213 1257.2Q217 1254.8 221 1255.2Q225 1257.2 228.9 1255.4V1336" fill="none" stroke="#3a3230" stroke-width="1.2" />
<path d="M205 1255.6Q211 1253.6 217.2 1255.2" fill="none" stroke="#3a3230" stroke-width="0.8" />
<path d="M205 1335A11.95 11.95 0 0 0 228.9 1335" fill="none" stroke="#3a3230" stroke-width="1.2" />
<line x1="244.8" y1="1053.5" x2="290.4" y2="1053.5" stroke="#8c8888" stroke-width="0.9" />
<line x1="246.8" y1="1146" x2="266" y2="1146" stroke="#8c8888" stroke-width="0.9" />
<line x1="219" y1="1346.9" x2="291" y2="1346.9" stroke="#8c8888" stroke-width="1" />
<line x1="204.9" y1="1340" x2="204.9" y2="1375.4" stroke="#8c8888" stroke-width="0.9" />
<line x1="229" y1="1340" x2="229" y2="1375.4" stroke="#8c8888" stroke-width="0.9" />
<line x1="204.9" y1="1373.3" x2="229" y2="1373.3" stroke="#8c8888" stroke-width="0.9" />
<line x1="280.6" y1="1066" x2="280.6" y2="1185.6" stroke="#231815" stroke-width="1" />
<line x1="280.6" y1="1211" x2="280.6" y2="1335" stroke="#231815" stroke-width="1" />
<polygon points="280.6,1056.4 277.9,1068.8 283.3,1068.8" fill="#231815" stroke="none" stroke-width="0" />
<polygon points="280.6,1345.4 277.9,1333 283.3,1333" fill="#231815" stroke="none" stroke-width="0" />
<line x1="258.4" y1="1160" x2="258.4" y2="1230.4" stroke="#231815" stroke-width="1" />
<line x1="258.4" y1="1264" x2="258.4" y2="1335" stroke="#231815" stroke-width="1" />
<polygon points="258.4,1149.4 255.7,1161.8 261.1,1161.8" fill="#231815" stroke="none" stroke-width="0" />
<polygon points="258.4,1345.4 255.7,1333 261.1,1333" fill="#231815" stroke="none" stroke-width="0" />
<text x="260.1" y="1250.5" font-family="'Liberation Sans','Noto Sans CJK SC',sans-serif" font-size="13.6" font-weight="normal" text-anchor="middle" fill="#231815" stroke="#231815" stroke-width="0.9">l</text>
<line x1="186.4" y1="1373.3" x2="195" y2="1373.3" stroke="#231815" stroke-width="1" />
<polygon points="204.4,1373.3 191.8,1370.7 191.8,1375.9" fill="#231815" stroke="none" stroke-width="0" />
<line x1="239" y1="1373.3" x2="247.6" y2="1373.3" stroke="#231815" stroke-width="1" />
<polygon points="229.5,1373.3 242.1,1370.7 242.1,1375.9" fill="#231815" stroke="none" stroke-width="0" />
<text x="282.6" y="1204.4" font-family="'Liberation Serif',serif" font-size="20.5" font-weight="normal" text-anchor="middle" fill="#231815" >L</text>
<text x="217.3" y="1368.4" font-family="'Liberation Sans','Noto Sans CJK SC',sans-serif" font-size="21.5" font-weight="normal" text-anchor="middle" fill="#231815" textLength="17.6" lengthAdjust="spacingAndGlyphs" stroke="#231815" stroke-width="0.12">d</text>
</g>
</g>
<g id="view4">
<path d="M515.1 863.3 L490.8 863.3 L490.8 808.1 L497.2 804.5 L687.8 804.5 L694.3 807.6 L694.3 863.3 L669.1 863.3" fill="none" stroke="#231815" stroke-width="2" stroke-linejoin="miter"/>
<line x1="490.9" y1="808.1" x2="490.9" y2="863.3" stroke="#231815" stroke-width="2.6" />
<line x1="694.2" y1="807.8" x2="694.2" y2="863.3" stroke="#231815" stroke-width="2.6" />
<path d="M492.4 808.4Q517.7 812.4 521.2 839.4L532.8 804.8" fill="none" stroke="#231815" stroke-width="1.5" stroke-linejoin="miter"/>
<path d="M692.8 808.4Q666.9 812.4 663.4 839.4L651.7 804.8" fill="none" stroke="#231815" stroke-width="1.5" stroke-linejoin="miter"/>
<text x="538.4" y="821.4" font-family="'IPAGothic','Liberation Mono',monospace" font-size="18.5" font-weight="normal" text-anchor="middle" fill="#231815" >Z</text>
<text x="645.3" y="821.7" font-family="'IPAGothic','Liberation Mono',monospace" font-size="18.5" font-weight="normal" text-anchor="middle" fill="#231815" >S</text>
<path d="M448.4 813.8Q440.5 815.2 439.5 821.2V850Q440.5 856 448.4 857.4" fill="none" stroke="#231815" stroke-width="1.9" />
<rect x="448.4" y="812.2" width="30.85" height="46.8" rx="0" fill="none" stroke="#231815" stroke-width="1.9" />
<line x1="453.4" y1="820" x2="479.25" y2="820" stroke="#231815" stroke-width="1.5" />
<line x1="453.4" y1="835.6" x2="479.25" y2="835.6" stroke="#231815" stroke-width="1.5" />
<line x1="453.4" y1="851.2" x2="479.25" y2="851.2" stroke="#231815" stroke-width="1.5" />
<polyline points="448.4,812.2 453.4,820 448.4,827.8 453.4,835.6 448.4,843.4 453.4,851.2 448.4,859" fill="none" stroke="#231815" stroke-width="1.3" />
<line x1="478.85" y1="811.2" x2="478.85" y2="860" stroke="#231815" stroke-width="1.3" />
<line x1="480.65" y1="811.2" x2="480.65" y2="860" stroke="#7a7676" stroke-width="1.3" />
<line x1="480.65" y1="812.2" x2="490.8" y2="812.2" stroke="#231815" stroke-width="1.5" />
<line x1="480.65" y1="820" x2="490.8" y2="820" stroke="#231815" stroke-width="1.5" />
<line x1="480.65" y1="835.6" x2="490.8" y2="835.6" stroke="#231815" stroke-width="1.5" />
<line x1="480.65" y1="851.2" x2="490.8" y2="851.2" stroke="#231815" stroke-width="1.5" />
<line x1="480.65" y1="859" x2="490.8" y2="859" stroke="#231815" stroke-width="1.5" />
<rect x="695.6" y="811" width="8.5" height="50.8" rx="0" fill="none" stroke="#231815" stroke-width="1.3" />
<line x1="695.6" y1="819.6" x2="704.1" y2="819.6" stroke="#231815" stroke-width="1.2" />
<line x1="695.6" y1="836.4" x2="704.1" y2="836.4" stroke="#231815" stroke-width="1.2" />
<line x1="695.6" y1="853.6" x2="704.1" y2="853.6" stroke="#231815" stroke-width="1.2" />
<line x1="705.2" y1="809.8" x2="705.2" y2="863.2" stroke="#231815" stroke-width="2" />
<line x1="707.4" y1="810.2" x2="707.4" y2="862.8" stroke="#7a7676" stroke-width="1.2" />
<path d="M707.9 813Q712.9 813.4 712.9 817.5V855.3Q712.9 859.4 707.9 859.8" fill="none" stroke="#231815" stroke-width="1.8" />
<path d="M500.7 864V872A5.6 5.6 0 0 0 506.3 877.6H513" fill="none" stroke="#231815" stroke-width="1.4" />
<circle cx="508.1" cy="870.4" r="3.2" fill="none" stroke="#231815" stroke-width="1.5" />
<g transform="translate(376.7 -2.2)">
<path d="M176.6 957V999.2" fill="none" stroke="#231815" stroke-width="2.2" />
<path d="M254.6 953V999.2" fill="none" stroke="#231815" stroke-width="2.2" />
<line x1="175.5" y1="999.2" x2="254.3" y2="999.2" stroke="#231815" stroke-width="1.8" />
<path d="M175.9 999.2Q167.8 1008 167.8 1019.4Q167.8 1031 175.9 1039.3H254Q262.3 1031 262.3 1019.4Q262.3 1008 253.9 999.2" fill="none" stroke="#231815" stroke-width="1.9" />
<line x1="175.5" y1="1039.3" x2="254.4" y2="1039.3" stroke="#231815" stroke-width="2.4" />
</g>
<path d="M566.4 962.6Q556.6 974 559.2 982.6Q562 990.6 573 990L606 985.2Q617 983.6 621.6 981.2" fill="none" stroke="#231815" stroke-width="1.8" />
<path d="M567.4 963.2L583.6 966.6" fill="none" stroke="#231815" stroke-width="2.6" />
<circle cx="567.8" cy="980.3" r="3.8" fill="none" stroke="#231815" stroke-width="1.6" />
<circle cx="612.7" cy="969" r="3.2" fill="none" stroke="#231815" stroke-width="1.7" />
<path d="M615.44 976.52A8 8 0 0 1 609.96 961.48" fill="none" stroke="#231815" stroke-width="1.8" />
<path d="M623.79 962.6A12.8 12.8 0 1 1 602.21 961.66" fill="none" stroke="#231815" stroke-width="2.2" />
<path d="M615.4 976.4Q620 976 621.6 980.6" fill="none" stroke="#231815" stroke-width="1.5" />
<circle cx="620.6" cy="961.2" r="1.6" fill="none" stroke="#231815" stroke-width="1" />
<circle cx="592.4" cy="886.1" r="78.6" fill="#e7e5e6" stroke="#231815" stroke-width="2.6" />
<clipPath id="c4"><circle cx="592.4" cy="886.1" r="76"/></clipPath>
<g clip-path="url(#c4)">
<rect x="510" y="875.4" width="165" height="95" rx="0" fill="#ffffff" stroke="none" stroke-width="0" />
<line x1="510" y1="874.8" x2="676" y2="874.8" stroke="#b4b4b5" stroke-width="1.3" />
<path d="M553.6 800V863.8H510" fill="none" stroke="#b4b4b5" stroke-width="1.4" />
<path d="M548.5 800V857.8H510" fill="none" stroke="#d4d6d6" stroke-width="1" />
<path d="M630.1 800V863.8H680" fill="none" stroke="#b4b4b5" stroke-width="1.4" />
<path d="M635.2 800V858.7H680" fill="none" stroke="#d4d6d6" stroke-width="1" />
<path d="M544.6 877.6H632.2V941.6Q625 946 614.6 947V931.2Q570 932 550.5 905Q544.6 895 544.6 877.6Z" fill="none" stroke="#cfcfcf" stroke-width="1.1" />
</g>
<circle cx="592.4" cy="886.1" r="75.4" fill="none" stroke="#adadae" stroke-width="1.9" />
<circle cx="592.4" cy="886.1" r="73.3" fill="none" stroke="#d0d0d0" stroke-width="1.5" />
<path d="M581.8 811V823A10.3 10.3 0 0 0 602.4 823V811" fill="none" stroke="#b4b4b5" stroke-width="1.4" />
<circle cx="592.1" cy="822.6" r="5" fill="none" stroke="#b4b4b5" stroke-width="1.4" />
<circle cx="609.8" cy="865" r="5.2" fill="none" stroke="#b4b4b5" stroke-width="1.1" />
<g transform="translate(645 890.9) rotate(0)">
<rect x="-8" y="-6.5" width="16" height="13" rx="1.6" fill="#fff" stroke="#2b2321" stroke-width="1.5" />
<path d="M-5.6 -6.5V6.5M5.6 -6.5V6.5" fill="none" stroke="#2b2321" stroke-width="0.8" />
<circle cx="0" cy="0" r="4.4" fill="none" stroke="#2b2321" stroke-width="1.2" />
<ellipse cx="0" cy="0" rx="2.7" ry="4.0" fill="none" stroke="#2b2321" stroke-width="0.9"/>
<line x1="-3.6" y1="0.3" x2="3.6" y2="0.3" stroke="#2b2321" stroke-width="1.7" />
<line x1="0" y1="-3.8" x2="0" y2="3.8" stroke="#2b2321" stroke-width="1.4" />
<path d="M-8 -2.4H-9.6V2.4H-8" fill="none" stroke="#2b2321" stroke-width="1.1" />
<path d="M6.4 -2.4H4.8V2.4H6.4" fill="none" stroke="#2b2321" stroke-width="0.9" />
</g>
<g transform="translate(646 909.4) rotate(0)">
<rect x="-8" y="-6.5" width="16" height="13" rx="1.6" fill="#fff" stroke="#2b2321" stroke-width="1.5" />
<path d="M-5.6 -6.5V6.5M5.6 -6.5V6.5" fill="none" stroke="#2b2321" stroke-width="0.8" />
<circle cx="0" cy="0" r="4.4" fill="none" stroke="#2b2321" stroke-width="1.2" />
<ellipse cx="0" cy="0" rx="2.7" ry="4.0" fill="none" stroke="#2b2321" stroke-width="0.9"/>
<line x1="-3.6" y1="0.3" x2="3.6" y2="0.3" stroke="#2b2321" stroke-width="1.7" />
<line x1="0" y1="-3.8" x2="0" y2="3.8" stroke="#2b2321" stroke-width="1.4" />
<path d="M-8 -2.4H-9.6V2.4H-8" fill="none" stroke="#2b2321" stroke-width="1.1" />
<path d="M6.4 -2.4H4.8V2.4H6.4" fill="none" stroke="#2b2321" stroke-width="0.9" />
</g>
<g transform="translate(537.6 911.8) rotate(-116)">
<rect x="-9" y="-7.8" width="18" height="15.6" rx="1.6" fill="#fff" stroke="#2b2321" stroke-width="1.5" />
<path d="M-6.6 -7.8V7.8M6.6 -7.8V7.8" fill="none" stroke="#2b2321" stroke-width="0.8" />
<circle cx="0" cy="0" r="4.4" fill="none" stroke="#2b2321" stroke-width="1.2" />
<ellipse cx="0" cy="0" rx="2.7" ry="4.0" fill="none" stroke="#2b2321" stroke-width="0.9"/>
<line x1="-3.6" y1="0.3" x2="3.6" y2="0.3" stroke="#2b2321" stroke-width="1.7" />
<line x1="0" y1="-3.8" x2="0" y2="3.8" stroke="#2b2321" stroke-width="1.4" />
<path d="M-9 -2.4H-10.6V2.4H-9" fill="none" stroke="#2b2321" stroke-width="1.1" />
<path d="M7.4 -2.4H5.8V2.4H7.4" fill="none" stroke="#2b2321" stroke-width="0.9" />
</g>
<g transform="translate(551.4 929.8) rotate(-58)">
<rect x="-9" y="-7.8" width="18" height="15.6" rx="1.6" fill="#fff" stroke="#2b2321" stroke-width="1.5" />
<path d="M-6.6 -7.8V7.8M6.6 -7.8V7.8" fill="none" stroke="#2b2321" stroke-width="0.8" />
<circle cx="0" cy="0" r="4.4" fill="none" stroke="#2b2321" stroke-width="1.2" />
<ellipse cx="0" cy="0" rx="2.7" ry="4.0" fill="none" stroke="#2b2321" stroke-width="0.9"/>
<line x1="-3.6" y1="0.3" x2="3.6" y2="0.3" stroke="#2b2321" stroke-width="1.7" />
<line x1="0" y1="-3.8" x2="0" y2="3.8" stroke="#2b2321" stroke-width="1.4" />
<path d="M-9 -2.4H-10.6V2.4H-9" fill="none" stroke="#2b2321" stroke-width="1.1" />
<path d="M7.4 -2.4H5.8V2.4H7.4" fill="none" stroke="#2b2321" stroke-width="0.9" />
</g>
<g transform="translate(569.6 939.9) rotate(-72)">
<rect x="-9" y="-7.8" width="18" height="15.6" rx="1.6" fill="#fff" stroke="#2b2321" stroke-width="1.5" />
<path d="M-6.6 -7.8V7.8M6.6 -7.8V7.8" fill="none" stroke="#2b2321" stroke-width="0.8" />
<circle cx="0" cy="0" r="4.4" fill="none" stroke="#2b2321" stroke-width="1.2" />
<ellipse cx="0" cy="0" rx="2.7" ry="4.0" fill="none" stroke="#2b2321" stroke-width="0.9"/>
<line x1="-3.6" y1="0.3" x2="3.6" y2="0.3" stroke="#2b2321" stroke-width="1.7" />
<line x1="0" y1="-3.8" x2="0" y2="3.8" stroke="#2b2321" stroke-width="1.4" />
<path d="M-9 -2.4H-10.6V2.4H-9" fill="none" stroke="#2b2321" stroke-width="1.1" />
<path d="M7.4 -2.4H5.8V2.4H7.4" fill="none" stroke="#2b2321" stroke-width="0.9" />
</g>
<g transform="translate(590.3 945.5) rotate(-86)">
<rect x="-9" y="-7.8" width="18" height="15.6" rx="1.6" fill="#fff" stroke="#2b2321" stroke-width="1.5" />
<path d="M-6.6 -7.8V7.8M6.6 -7.8V7.8" fill="none" stroke="#2b2321" stroke-width="0.8" />
<circle cx="0" cy="0" r="4.4" fill="none" stroke="#2b2321" stroke-width="1.2" />
<ellipse cx="0" cy="0" rx="2.7" ry="4.0" fill="none" stroke="#2b2321" stroke-width="0.9"/>
<line x1="-3.6" y1="0.3" x2="3.6" y2="0.3" stroke="#2b2321" stroke-width="1.7" />
<line x1="0" y1="-3.8" x2="0" y2="3.8" stroke="#2b2321" stroke-width="1.4" />
<path d="M-9 -2.4H-10.6V2.4H-9" fill="none" stroke="#2b2321" stroke-width="1.1" />
<path d="M7.4 -2.4H5.8V2.4H7.4" fill="none" stroke="#2b2321" stroke-width="0.9" />
</g>
<text x="595.3" y="903.9" font-family="'Liberation Sans','Noto Sans CJK SC',sans-serif" font-size="10.4" font-weight="bold" text-anchor="middle" fill="#231815" textLength="34" lengthAdjust="spacingAndGlyphs" stroke="#231815" stroke-width="0.35">POWER</text>
<line x1="607.5" y1="887.2" x2="614.3" y2="887.2" stroke="#231815" stroke-width="1.5" />
<line x1="610.9" y1="883.8" x2="610.9" y2="890.6" stroke="#231815" stroke-width="1.5" />
<line x1="607.5" y1="910.7" x2="614.3" y2="910.7" stroke="#231815" stroke-width="1.5" />
<path d="M606.2 887.4L600.4 889.8V893.6" fill="none" stroke="#231815" stroke-width="1" stroke-dasharray="3.4 1.4"/>
<path d="M600.4 905.6V908.8L606.2 910.8" fill="none" stroke="#231815" stroke-width="1" stroke-dasharray="3.4 1.4"/>
<text x="593.7" y="1015" font-family="'IPAGothic','Liberation Mono',monospace" font-size="14.2" font-weight="normal" text-anchor="middle" fill="#231815" letter-spacing="0.3" stroke="#231815" stroke-width="0.1">FIELD</text>
<text x="590.8" y="1031.4" font-family="'IPAGothic','Liberation Mono',monospace" font-size="14.2" font-weight="normal" text-anchor="middle" fill="#231815" letter-spacing="0.2" stroke="#231815" stroke-width="0.1">TERMIALS</text>
<g transform="translate(376.2 -1.7)">
<rect x="187.2" y="1041.2" width="14.4" height="13.2" rx="2.6" fill="none" stroke="#3a3230" stroke-width="1" />
<rect x="201.6" y="1041.2" width="29" height="13.2" rx="2.6" fill="none" stroke="#3a3230" stroke-width="1" />
<rect x="230.6" y="1041.2" width="14" height="13.2" rx="2.6" fill="none" stroke="#3a3230" stroke-width="1" />
<rect x="196.4" y="1054.4" width="41.2" height="6.2" rx="1.5" fill="none" stroke="#3a3230" stroke-width="1" />
<line x1="206.1" y1="1054.4" x2="206.1" y2="1060.6" stroke="#3a3230" stroke-width="1" />
<line x1="227.3" y1="1054.4" x2="227.3" y2="1060.6" stroke="#3a3230" stroke-width="1" />
<line x1="205" y1="1060.6" x2="205" y2="1112.4" stroke="#3a3230" stroke-width="1.3" />
<line x1="228.5" y1="1060.6" x2="228.5" y2="1112.4" stroke="#3a3230" stroke-width="1.3" />
<polygon points="205,1111.6 228.5,1111.6 232,1115.6 201,1115.6" fill="#231815" stroke="none" stroke-width="0" />
<path d="M186.4 1139.2V1121Q186.6 1116.6 191 1115.6H240.4Q244.8 1116.6 245 1121V1139.2" fill="none" stroke="#3a3230" stroke-width="1.2" />
<line x1="201.2" y1="1116" x2="201.2" y2="1139.2" stroke="#3a3230" stroke-width="1.1" />
<line x1="229.8" y1="1116" x2="229.8" y2="1139.2" stroke="#3a3230" stroke-width="1.1" />
<path d="M186.6 1121Q193.5 1114.8 201.2 1118Q215.5 1113.6 229.8 1118Q237.5 1114.8 244.8 1121" fill="none" stroke="#3a3230" stroke-width="0.8" />
<rect x="184.6" y="1139.3" width="62" height="6.8" rx="0.8" fill="none" stroke="#3a3230" stroke-width="1.2" />
<path d="M196.6 1146.2V1151.6M235.8 1146.2V1151.6" fill="none" stroke="#3a3230" stroke-width="1.1" />
<rect x="193.3" y="1151.4" width="45.2" height="40.2" rx="3" fill="none" stroke="#3a3230" stroke-width="1.2" />
<line x1="193.6" y1="1153.6" x2="238.2" y2="1153.6" stroke="#3a3230" stroke-width="0.9" />
<line x1="193.6" y1="1187.4" x2="238.2" y2="1187.4" stroke="#3a3230" stroke-width="0.9" />
<line x1="194.4" y1="1189.6" x2="237.4" y2="1189.6" stroke="#3a3230" stroke-width="0.9" />
<line x1="196.4" y1="1153.6" x2="196.4" y2="1187.4" stroke="#3a3230" stroke-width="0.8" />
<line x1="235.4" y1="1153.6" x2="235.4" y2="1187.4" stroke="#3a3230" stroke-width="0.8" />
<polygon points="196.6,1192.4 235.4,1192.4 229.6,1196.4 204.2,1196.4" fill="#231815" stroke="none" stroke-width="0" />
<path d="M205 1196V1248.6Q208.6 1251.2 213 1250.4Q217 1248 221 1248.4Q225 1250.4 228.7 1248.6V1196" fill="none" stroke="#3a3230" stroke-width="1.2" />
<path d="M205 1248.6Q211 1246.6 217.2 1248.2" fill="none" stroke="#3a3230" stroke-width="0.8" />
<path d="M205 1336V1255.6Q208.6 1258 213 1257.2Q217 1254.8 221 1255.2Q225 1257.2 228.9 1255.4V1336" fill="none" stroke="#3a3230" stroke-width="1.2" />
<path d="M205 1255.6Q211 1253.6 217.2 1255.2" fill="none" stroke="#3a3230" stroke-width="0.8" />
<path d="M205 1335A11.95 11.95 0 0 0 228.9 1335" fill="none" stroke="#3a3230" stroke-width="1.2" />
<line x1="244.8" y1="1053.5" x2="290.4" y2="1053.5" stroke="#8c8888" stroke-width="0.9" />
<line x1="246.8" y1="1146" x2="266" y2="1146" stroke="#8c8888" stroke-width="0.9" />
<line x1="219" y1="1346.9" x2="291" y2="1346.9" stroke="#8c8888" stroke-width="1" />
<line x1="204.9" y1="1340" x2="204.9" y2="1375.4" stroke="#8c8888" stroke-width="0.9" />
<line x1="229" y1="1340" x2="229" y2="1375.4" stroke="#8c8888" stroke-width="0.9" />
<line x1="204.9" y1="1373.3" x2="229" y2="1373.3" stroke="#8c8888" stroke-width="0.9" />
<line x1="280.6" y1="1066" x2="280.6" y2="1185.6" stroke="#231815" stroke-width="1" />
<line x1="280.6" y1="1211" x2="280.6" y2="1335" stroke="#231815" stroke-width="1" />
<polygon points="280.6,1056.4 277.9,1068.8 283.3,1068.8" fill="#231815" stroke="none" stroke-width="0" />
<polygon points="280.6,1345.4 277.9,1333 283.3,1333" fill="#231815" stroke="none" stroke-width="0" />
<line x1="258.4" y1="1160" x2="258.4" y2="1230.4" stroke="#231815" stroke-width="1" />
<line x1="258.4" y1="1264" x2="258.4" y2="1335" stroke="#231815" stroke-width="1" />
<polygon points="258.4,1149.4 255.7,1161.8 261.1,1161.8" fill="#231815" stroke="none" stroke-width="0" />
<polygon points="258.4,1345.4 255.7,1333 261.1,1333" fill="#231815" stroke="none" stroke-width="0" />
<text x="260.1" y="1250.5" font-family="'Liberation Sans','Noto Sans CJK SC',sans-serif" font-size="13.6" font-weight="normal" text-anchor="middle" fill="#231815" stroke="#231815" stroke-width="0.9">l</text>
<line x1="186.4" y1="1373.3" x2="195" y2="1373.3" stroke="#231815" stroke-width="1" />
<polygon points="204.4,1373.3 191.8,1370.7 191.8,1375.9" fill="#231815" stroke="none" stroke-width="0" />
<line x1="239" y1="1373.3" x2="247.6" y2="1373.3" stroke="#231815" stroke-width="1" />
<polygon points="229.5,1373.3 242.1,1370.7 242.1,1375.9" fill="#231815" stroke="none" stroke-width="0" />
<text x="282.6" y="1204.4" font-family="'Liberation Serif',serif" font-size="20.5" font-weight="normal" text-anchor="middle" fill="#231815" >L</text>
<text x="217.3" y="1368.4" font-family="'Liberation Sans','Noto Sans CJK SC',sans-serif" font-size="21.5" font-weight="normal" text-anchor="middle" fill="#231815" textLength="17.6" lengthAdjust="spacingAndGlyphs" stroke="#231815" stroke-width="0.12">d</text>
</g>
</g>
<g id="wiring">
<path d="M637.5 909.5H620.2V832.8H891.3V884.5" fill="none" stroke="#231815" stroke-width="1.9" stroke-linejoin="miter"/>
<path d="M891.3 911.4V967.6H782.9V902.6" fill="none" stroke="#231815" stroke-width="1.9" stroke-linejoin="miter"/>
<path d="M639.5 890.5H626.1V838.3H782.9V895" fill="none" stroke="#e60012" stroke-width="2" stroke-linejoin="miter"/>
<line x1="771" y1="895.2" x2="794" y2="895.2" stroke="#e60012" stroke-width="3.6" stroke-linecap="round"/>
<line x1="776.6" y1="902.4" x2="789.4" y2="902.4" stroke="#231815" stroke-width="3" stroke-linecap="round"/>
<line x1="789.2" y1="881.8" x2="798.4" y2="881.8" stroke="#231815" stroke-width="1.4" />
<line x1="793.8" y1="877.2" x2="793.8" y2="886.4" stroke="#231815" stroke-width="1.4" />
<line x1="789.2" y1="912.6" x2="798.4" y2="912.6" stroke="#231815" stroke-width="1.5" />
<circle cx="890.8" cy="897.9" r="13.3" fill="none" stroke="#231815" stroke-width="1.6" />
<line x1="901.6" y1="907.2" x2="885.4" y2="891.6" stroke="#231815" stroke-width="1.8" />
<polygon points="881.8,888 891.6,891 885.2,897.8" fill="#231815" stroke="none" stroke-width="0" />
<line x1="873.4" y1="875.9" x2="882.2" y2="875.9" stroke="#231815" stroke-width="1.5" />
<line x1="874.8" y1="919.3" x2="883.8" y2="919.3" stroke="#231815" stroke-width="1.4" />
<line x1="879.3" y1="914.8" x2="879.3" y2="923.8" stroke="#231815" stroke-width="1.4" />
<text x="733.4" y="898.6" font-family="'Liberation Sans','Noto Sans CJK SC',sans-serif" font-size="14.3" font-weight="normal" text-anchor="start" fill="#231815" textLength="28.8" lengthAdjust="spacingAndGlyphs" stroke="#231815" stroke-width="0.15">电源</text>
<text x="733" y="916.8" font-family="'IPAGothic','Liberation Mono',monospace" font-size="14.6" font-weight="normal" text-anchor="start" fill="#231815" stroke="#231815" stroke-width="0.15">DC24V</text>
<text x="856" y="905.2" font-family="'IPAGothic','Liberation Mono',monospace" font-size="12.4" font-weight="normal" text-anchor="start" fill="#231815" textLength="14.8" lengthAdjust="spacingAndGlyphs" stroke="#231815" stroke-width="0.15">mA</text>
<text x="918" y="893.6" font-family="'Liberation Sans','Noto Sans CJK SC',sans-serif" font-size="14.3" font-weight="normal" text-anchor="start" fill="#231815" textLength="28.2" lengthAdjust="spacingAndGlyphs" stroke="#231815" stroke-width="0.15">直流</text>
<text x="910.6" y="913.4" font-family="'Liberation Sans','Noto Sans CJK SC',sans-serif" font-size="14.3" font-weight="normal" text-anchor="start" fill="#231815" textLength="43" lengthAdjust="spacingAndGlyphs" stroke="#231815" stroke-width="0.15">电流表</text>
</g>
</svg>
</body></html>
